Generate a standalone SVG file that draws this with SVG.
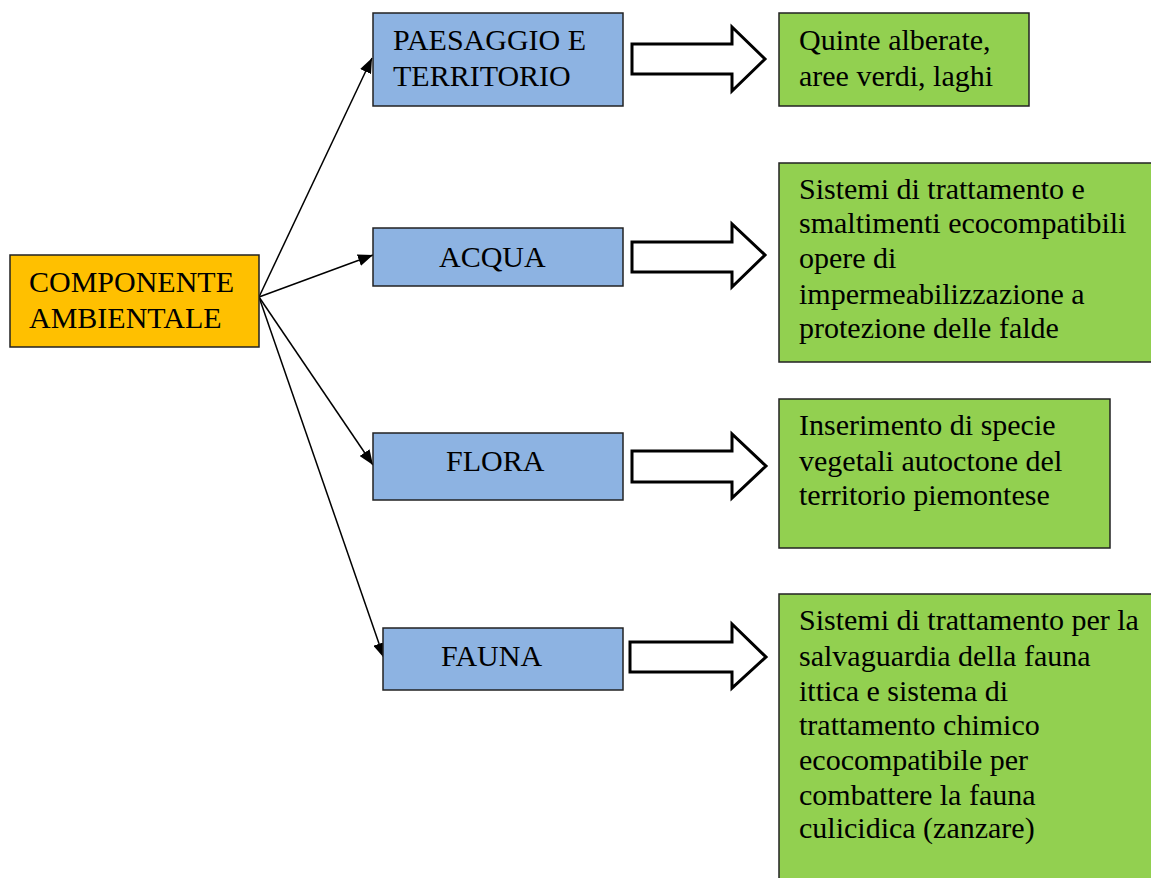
<svg xmlns="http://www.w3.org/2000/svg" width="1151" height="878" viewBox="0 0 1151 878">
  <style>
    .t { font-family: "Liberation Serif", "Times New Roman", serif; font-size: 30px; fill: #000; }
    .orange { fill: #FFC000; stroke: #222; stroke-width: 1.5; }
    .blue { fill: #8DB3E2; stroke: #222; stroke-width: 1.5; }
    .green { fill: #92D050; stroke: #222; stroke-width: 1.5; }
    .block { fill: #fff; stroke: #000; stroke-width: 3; stroke-linejoin: miter; }
    .conn { fill: none; stroke: #000; stroke-width: 1.5; }
  </style>
  <defs>
    <marker id="ah" markerUnits="userSpaceOnUse" markerWidth="16" markerHeight="12" refX="15" refY="6" orient="auto">
      <path d="M0,0 L15,6 L0,12 Z" fill="#000"/>
    </marker>
  </defs>
  <rect width="1151" height="878" fill="#fff"/>

  <g id="connectors">
    <line class="conn" x1="259" y1="297" x2="372" y2="58" marker-end="url(#ah)"/>
    <line class="conn" x1="259" y1="297" x2="373" y2="255" marker-end="url(#ah)"/>
    <line class="conn" x1="259" y1="297" x2="373" y2="465" marker-end="url(#ah)"/>
    <line class="conn" x1="259" y1="297" x2="384" y2="658" marker-end="url(#ah)"/>
    <polygon class="block" points="632,44 732,44 732,27 765,59 732,91 732,74 632,74"/>
    <polygon class="block" points="632,242 732,242 732,224 765,255 732,287 732,272 632,272"/>
    <polygon class="block" points="632,451 732,451 732,434 766,466 732,498 732,482 632,482"/>
    <polygon class="block" points="630,642 732,642 732,624 766,657 732,688 732,672 630,672"/>
  </g>

  <g id="componente">
    <rect class="orange" x="10" y="255" width="249" height="92"/>
    <text class="t" x="29" y="292">COMPONENTE</text>
    <text class="t" x="29" y="328">AMBIENTALE</text>
  </g>

  <g id="paesaggio">
    <rect class="blue" x="373" y="13" width="250" height="93"/>
    <text class="t" x="393" y="50">PAESAGGIO E</text>
    <text class="t" x="393" y="86">TERRITORIO</text>
  </g>
  <g id="acqua">
    <rect class="blue" x="373" y="228" width="250" height="58"/>
    <text class="t" x="439" y="267">ACQUA</text>
  </g>
  <g id="flora">
    <rect class="blue" x="373" y="433" width="250" height="67"/>
    <text class="t" x="446" y="471">FLORA</text>
  </g>
  <g id="fauna">
    <rect class="blue" x="383" y="628" width="240" height="62"/>
    <text class="t" x="441" y="666">FAUNA</text>
  </g>

  <g id="quinte">
    <rect class="green" x="779" y="13" width="250" height="93"/>
    <text class="t" x="799" y="50">Quinte alberate,</text>
    <text class="t" x="799" y="86">aree verdi, laghi</text>
  </g>
  <g id="sistemi-acqua">
    <rect class="green" x="779" y="163" width="380" height="199"/>
    <text class="t" x="799" y="199">Sistemi di trattamento e</text>
    <text class="t" x="799" y="233">smaltimenti ecocompatibili</text>
    <text class="t" x="799" y="268">opere di</text>
    <text class="t" x="799" y="304">impermeabilizzazione a</text>
    <text class="t" x="799" y="338">protezione delle falde</text>
  </g>
  <g id="inserimento">
    <rect class="green" x="779" y="399" width="331" height="149"/>
    <text class="t" x="799" y="435">Inserimento di specie</text>
    <text class="t" x="799" y="471">vegetali autoctone del</text>
    <text class="t" x="799" y="505">territorio piemontese</text>
  </g>
  <g id="sistemi-fauna">
    <rect class="green" x="779" y="594" width="380" height="300"/>
    <text class="t" x="799" y="630">Sistemi di trattamento per la</text>
    <text class="t" x="799" y="666">salvaguardia della fauna</text>
    <text class="t" x="799" y="701">ittica e sistema di</text>
    <text class="t" x="799" y="735">trattamento chimico</text>
    <text class="t" x="799" y="770">ecocompatibile per</text>
    <text class="t" x="799" y="805">combattere la fauna</text>
    <text class="t" x="799" y="838">culicidica (zanzare)</text>
  </g>
</svg>
